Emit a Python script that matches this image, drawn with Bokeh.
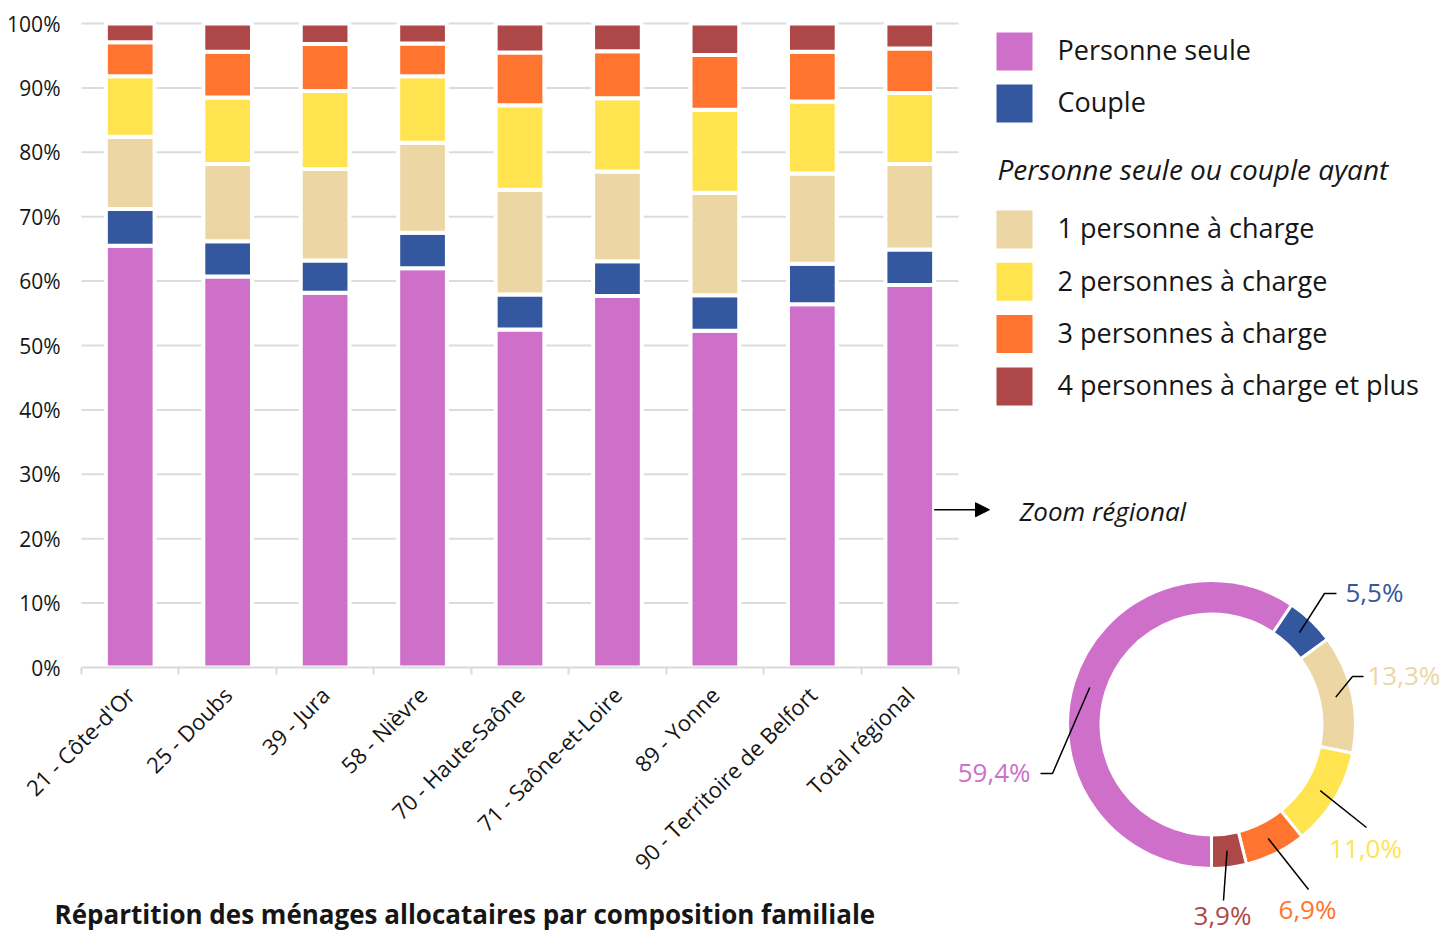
import math
from bokeh.plotting import figure
from bokeh.models import (ColumnDataSource, FixedTicker, Range1d, LinearAxis,
                          PrintfTickFormatter, Arrow, NormalHead)
from bokeh.core.properties import value
from bokeh.embed import file_html
from bokeh.resources import INLINE

FONT = "Open Sans"
TXT = "#161616"

# ---------------- data ----------------
categories = ["21 - Côte-d'Or", "25 - Doubs", "39 - Jura", "58 - Nièvre",
              "70 - Haute-Saône", "71 - Saône-et-Loire", "89 - Yonne",
              "90 - Territoire de Belfort", "Total régional"]
series_names = ["Personne seule", "Couple", "1 personne à charge",
                "2 personnes à charge", "3 personnes à charge",
                "4 personnes à charge et plus"]
colors = ["#ce70ca", "#3458a0", "#ecd6a4", "#ffe450", "#ff742e", "#ae4848"]

personne_seule = [65.5, 60.7, 58.2, 62.0, 52.5, 57.7, 52.3, 56.4, 59.4]
couple         = [5.7, 5.5, 5.0, 5.5, 5.4, 5.4, 5.5, 6.3, 5.5]
une_pac        = [11.2, 12.0, 14.2, 14.0, 16.3, 13.9, 15.9, 14.0, 13.3]
deux_pac       = [9.4, 10.3, 12.1, 10.3, 13.1, 11.4, 12.9, 11.2, 11.0]
trois_pac      = [5.3, 7.1, 7.3, 5.1, 8.2, 7.3, 8.5, 7.7, 6.9]
quatre_pac     = [2.9, 4.4, 3.2, 3.1, 4.5, 4.3, 4.9, 4.4, 3.9]

y_ticks = [0, 10, 20, 30, 40, 50, 60, 70, 80, 90, 100]
legend_header = "Personne seule ou couple ayant"
zoom_label = "Zoom régional"
chart_title = "Répartition des ménages allocataires par composition familiale"

series = [personne_seule, couple, une_pac, deux_pac, trois_pac, quatre_pac]
keys = ["s0", "s1", "s2", "s3", "s4", "s5"]

# ---------------- layout constants (picture pixels) ----------------
W, H = 1441, 936
PAGE_L, PAGE_T = 0, 0
FR_L, FR_R, FR_T, FR_B = 81, 958, 23, 667      # bar-chart area


def base(y, fs):
    """y position giving an alphabetic baseline at picture row y"""
    return y - 0.4 * fs


n = len(categories)
x_lo, x_hi = 0.5, n + 0.5
px_x = (FR_R - FR_L) / (x_hi - x_lo)
px_y = (FR_B - FR_T) / 100.0

p = figure(width=W, height=H,
           x_range=Range1d(PAGE_L, PAGE_L + W),
           y_range=Range1d(PAGE_T + H, PAGE_T),
           toolbar_location=None, output_backend="svg",
           x_axis_location=None, y_axis_location=None, min_border=0)
p.outline_line_color = None
p.grid.visible = False
p.background_fill_color = "white"
p.border_fill_color = "white"

p.extra_x_ranges = {"bx": Range1d(x_lo - (FR_L - PAGE_L) / px_x,
                                  x_hi + (PAGE_L + W - FR_R) / px_x)}
p.extra_y_ranges = {"by": Range1d(0 - (PAGE_T + H - FR_B) / px_y,
                                  100 + (FR_T - PAGE_T) / px_y)}

# ---------------- bar chart ----------------
xs = list(range(1, n + 1))
data = dict(x=xs)
for k, vals in zip(keys, series):
    data[k] = vals
source = ColumnDataSource(data)

grid_vals = [t for t in y_ticks if t > 0]
p.segment(x0=[x_lo] * len(grid_vals), x1=[x_hi] * len(grid_vals),
          y0=grid_vals, y1=grid_vals, line_color="#dcdcdc", line_width=2,
          x_range_name="bx", y_range_name="by")

p.vbar_stack(keys, x="x", width=0.5, fill_color=colors, line_color="white",
             line_width=4, source=source, x_range_name="bx", y_range_name="by")

# y axis
yaxis = LinearAxis(y_range_name="by", fixed_location=FR_L,
                   ticker=FixedTicker(ticks=y_ticks),
                   formatter=PrintfTickFormatter(format="%d%%"),
                   axis_line_color=None, major_tick_line_color=None,
                   minor_tick_line_color=None, major_tick_out=0, major_tick_in=0,
                   major_label_standoff=21, major_label_text_font=FONT,
                   major_label_text_font_size="21px",
                   major_label_text_color=TXT)
p.add_layout(yaxis, "left")

# x axis
xaxis = LinearAxis(x_range_name="bx", y_range_name="by", fixed_location=0,
                   bounds=(x_lo, x_hi),
                   ticker=FixedTicker(ticks=xs, minor_ticks=[x - 0.5 for x in xs] + [x_hi]),
                   major_label_overrides={x: c for x, c in zip(xs, categories)},
                   major_label_orientation=math.pi / 4,
                   major_tick_line_color=None, major_tick_out=0, major_tick_in=0,
                   minor_tick_line_color="#d9d9d9", minor_tick_line_width=2,
                   minor_tick_out=7, minor_tick_in=0,
                   axis_line_color="#d9d9d9", axis_line_width=2,
                   major_label_standoff=16, major_label_text_font=FONT,
                   major_label_text_font_size="22px",
                   major_label_text_color=TXT)
p.add_layout(xaxis, "below")

# title
p.text(x=[54], y=[base(924, 26)], text=[chart_title], text_font=value(FONT),
       text_font_style="bold", text_font_size="26px", text_color=TXT,
       text_baseline="alphabetic")

# arrow towards the donut
arrow_y = 24.5
arrow_end_px = 989
p.add_layout(Arrow(end=NormalHead(size=14, fill_color="black", line_color="black"),
                   x_start=xs[-1] + 0.25, y_start=arrow_y,
                   x_end=x_hi + (arrow_end_px - FR_R) / px_x, y_end=arrow_y,
                   x_range_name="bx", y_range_name="by",
                   line_color="black", line_width=1.5))
p.text(x=[1019], y=[base(521, 26)], text=[zoom_label], text_font=value(FONT),
       text_font_style="italic", text_font_size="26px",
       text_baseline="alphabetic", text_color=TXT)

# ---------------- legend ----------------
sq_x = 1014
upper_y = [51 + 52 * i for i in range(2)]
lower_y = [229 + 52.3 * i for i in range(4)]
leg_y = upper_y + lower_y
p.rect(x=[sq_x] * 6, y=leg_y, width=36, height=38, fill_color=colors,
       line_color=None)
p.text(x=[1057] * 6, y=[base(y + 9, 27) for y in leg_y], text=series_names,
       text_font=value(FONT), text_font_size="27px",
       text_baseline="alphabetic", text_color=TXT)
p.text(x=[997], y=[base(180, 28)], text=[legend_header], text_font=value(FONT),
       text_font_style="italic", text_font_size="28px",
       text_baseline="alphabetic", text_color=TXT)

# ---------------- donut (regional total = last column) ----------------
cx, cy = 1211, 724
r_in, r_out = 110.5, 144
total = [s[-1] for s in series]
tsum = sum(total)
cum = [0.0]
for v in total:
    cum.append(cum[-1] + v / tsum)
starts = [-math.pi / 2 - 2 * math.pi * c for c in cum[:-1]]
ends = [-math.pi / 2 - 2 * math.pi * c for c in cum[1:]]
p.annular_wedge(x=[cx] * 6, y=[cy] * 6, inner_radius=r_in, outer_radius=r_out,
                inner_radius_units="screen", outer_radius_units="screen",
                start_angle=starts, end_angle=ends, direction="clock",
                fill_color=colors, line_color="white", line_width=3)

# connector end (relative to centre), tail length, label offset, alignment
label_layout = [
    (-159, 49, -12, -10, 0, "right"),
    (113, -131, 12, 9, 0, "left"),
    (141, -48, 11, 4, 0, "left"),
    (155, 103, 0, -1, 22, "center"),
    (97, 165, 0, -1, 21, "center"),
    (12, 176, 0, -1, 16, "center"),
]
r_mid = (r_in + r_out) / 2
for i, v in enumerate(total):
    mid = (cum[i] + cum[i + 1]) / 2
    t = math.pi + 2 * math.pi * mid          # clockwise from top
    sx = cx + r_mid * math.sin(t)
    sy = cy - r_mid * math.cos(t)
    edx, edy, tail, ldx, ldy, align = label_layout[i]
    ex, ey = cx + edx, cy + edy
    lx_pts = [sx, ex] + ([ex + tail] if tail else [])
    ly_pts = [sy, ey] + ([ey] if tail else [])
    p.line(x=lx_pts, y=ly_pts, line_color="black", line_width=1.5)
    tx = (ex + tail) + ldx
    ty = base(ey + ldy + 9, 26)
    p.text(x=[tx], y=[ty], text=[f"{v:.1f}".replace(".", ",") + "%"],
           text_font=value(FONT), text_font_size="26px", text_align=align,
           text_baseline="alphabetic", text_color=colors[i])

open("out.html", "w").write(file_html(p, INLINE))
